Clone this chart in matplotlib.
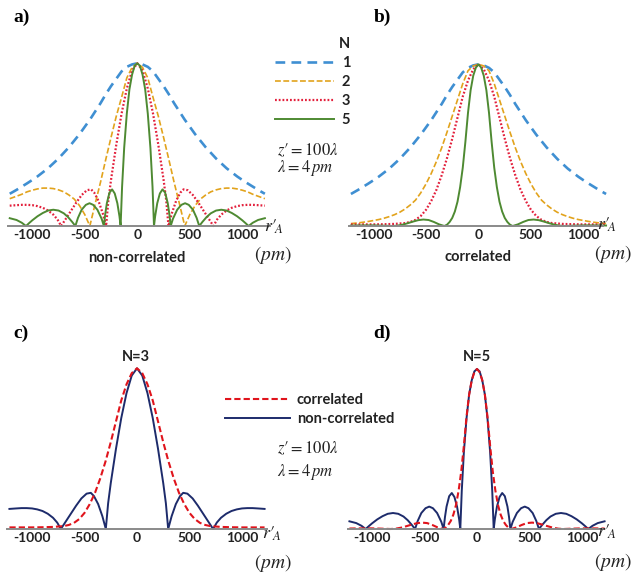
import matplotlib
matplotlib.use("Agg")
import matplotlib.pyplot as plt

plt.rcParams['font.family'] = ['Lato', 'DejaVu Sans']
plt.rcParams['mathtext.fontset'] = 'stix'
plt.rcParams['axes.unicode_minus'] = False
plt.rcParams['lines.scale_dashes'] = False

# ---------------- data ----------------
TICKS = [-1000, -500, 0, 500, 1000]
TICK_LABELS = ["-1000", "-500", "0", "500", "1000"]
N_LABELS = ["1", "2", "3", "5"]

# N = 1 (same for correlated / non-correlated)
X_N1 = [-1215, -1150, -1100, -1050, -1000, -950, -900, -850, -800, -750, -700, -650, -600, -550, -500,
        -450, -400, -350, -300, -250, -200, -150, -100, -50, 0, 50, 100, 150, 200, 250, 300, 350, 400,
        450, 500, 550, 600, 650, 700, 750, 800, 850, 900, 950, 1000, 1050, 1100, 1150, 1215]
Y_N1 = [0.198, 0.222, 0.242, 0.262, 0.283, 0.305, 0.33, 0.355, 0.385, 0.415, 0.45, 0.485, 0.525, 0.565, 0.61,
        0.655, 0.705, 0.755, 0.81, 0.86, 0.905, 0.95, 0.978, 0.993, 1.0, 0.993, 0.978, 0.95, 0.905, 0.86, 0.81,
        0.755, 0.705, 0.655, 0.61, 0.565, 0.525, 0.485, 0.45, 0.415, 0.385, 0.355, 0.33, 0.305, 0.283, 0.262,
        0.242, 0.222, 0.198]

# N = 2 non-correlated
X_NC2 = [-1215, -1150, -1100, -1050, -1000, -950, -900, -850, -800, -750, -700, -650, -600, -550, -500,
         -452, -400, -350, -300, -250, -200, -150, -100, -50, 0, 50, 100, 150, 200, 250, 300, 350, 400,
         452, 500, 550, 600, 650, 700, 750, 800, 850, 900, 950, 1000, 1050, 1100, 1150, 1215]
Y_NC2 = [0.168, 0.183, 0.195, 0.21, 0.22, 0.228, 0.233, 0.233, 0.23, 0.222, 0.21, 0.19, 0.165, 0.125, 0.07,
         0.0, 0.14, 0.27, 0.41, 0.545, 0.675, 0.79, 0.91, 0.975, 1.0, 0.975, 0.91, 0.79, 0.675, 0.545, 0.41,
         0.27, 0.14, 0.0, 0.07, 0.125, 0.165, 0.19, 0.21, 0.222, 0.23, 0.233, 0.233, 0.228, 0.22, 0.21,
         0.195, 0.183, 0.168]

# N = 2 correlated
X_C2 = X_N1
Y_C2 = [0.015, 0.019, 0.023, 0.028, 0.034, 0.04, 0.048, 0.058, 0.07, 0.085, 0.105, 0.13, 0.16, 0.205, 0.26,
        0.325, 0.40, 0.485, 0.58, 0.68, 0.78, 0.88, 0.96, 0.99, 1.0, 0.99, 0.96, 0.88, 0.78, 0.68, 0.58,
        0.485, 0.40, 0.325, 0.26, 0.205, 0.16, 0.13, 0.105, 0.085, 0.07, 0.058, 0.048, 0.04, 0.034, 0.028,
        0.023, 0.019, 0.015]

# N = 3 non-correlated
X_NC3 = [-1215, -1150, -1100, -1050, -1000, -950, -900, -850, -800, -760, -725, -680, -630, -580, -530,
         -480, -440, -410, -370, -330, -297, -275, -250, -200, -150, -100, -50, 0, 50, 100, 150, 200, 250,
         275, 297, 330, 370, 410, 440, 480, 530, 580, 630, 680, 725, 760, 800, 850, 900, 950, 1000, 1050,
         1100, 1150, 1215]
Y_NC3 = [0.125, 0.128, 0.13, 0.13, 0.128, 0.122, 0.112, 0.095, 0.07, 0.04, 0.0, 0.045, 0.095, 0.145, 0.19,
         0.22, 0.225, 0.205, 0.155, 0.08, 0.0, 0.16, 0.285, 0.50, 0.69, 0.845, 0.955, 1.0, 0.955, 0.845, 0.69,
         0.50, 0.285, 0.16, 0.0, 0.08, 0.155, 0.205, 0.225, 0.22, 0.19, 0.145, 0.095, 0.045, 0.0, 0.04, 0.07,
         0.095, 0.112, 0.122, 0.128, 0.13, 0.13, 0.128, 0.125]

# N = 3 correlated
X_C3 = [-1215, -1100, -1000, -900, -800, -700, -650, -600, -550, -500, -450, -400, -350, -300, -250, -200,
        -150, -100, -50, 0, 50, 100, 150, 200, 250, 300, 350, 400, 450, 500, 550, 600, 650, 700, 800, 900,
        1000, 1100, 1215]
Y_C3 = [0.01, 0.01, 0.01, 0.011, 0.013, 0.018, 0.025, 0.038, 0.062, 0.10, 0.155, 0.225, 0.315, 0.42, 0.54,
        0.67, 0.8, 0.9, 0.97, 1.0, 0.97, 0.9, 0.8, 0.67, 0.54, 0.42, 0.315, 0.225, 0.155, 0.10, 0.062, 0.038,
        0.025, 0.018, 0.013, 0.011, 0.01, 0.01, 0.01]

# N = 5 non-correlated
X_NC5 = [-1215, -1150, -1100, -1060, -1030, -1000, -950, -900, -850, -800, -750, -700, -660, -620, -590,
         -565, -530, -490, -455, -420, -380, -340, -318, -305, -290, -265, -240, -215, -190, -170, -159,
         -145, -125, -100, -75, -50, -25, 0, 25, 50, 75, 100, 125, 145, 159, 170, 190, 215, 240, 265, 290,
         305, 318, 340, 380, 420, 455, 490, 530, 565, 590, 620, 660, 700, 750, 800, 850, 900, 950, 1000,
         1030, 1060, 1100, 1150, 1215]
Y_NC5 = [0.048, 0.037, 0.02, 0.0, 0.018, 0.035, 0.06, 0.08, 0.095, 0.1, 0.095, 0.078, 0.055, 0.025, 0.0,
         0.05, 0.1, 0.13, 0.14, 0.13, 0.1, 0.045, 0.0, 0.075, 0.14, 0.205, 0.225, 0.2, 0.14, 0.06, 0.0,
         0.24, 0.48, 0.69, 0.84, 0.93, 0.985, 1.0, 0.985, 0.93, 0.84, 0.69, 0.48, 0.24, 0.0, 0.06, 0.14,
         0.2, 0.225, 0.205, 0.14, 0.075, 0.0, 0.045, 0.1, 0.13, 0.14, 0.13, 0.1, 0.05, 0.0, 0.025, 0.055,
         0.078, 0.095, 0.1, 0.095, 0.08, 0.06, 0.035, 0.018, 0.0, 0.02, 0.037, 0.048]

# N = 5 correlated
X_C5 = [-1215, -1100, -1000, -900, -825, -775, -725, -675, -625, -575, -525, -475, -425, -375, -325, -300,
        -275, -250, -225, -200, -175, -150, -125, -100, -75, -50, -25, 0, 25, 50, 75, 100, 125, 150, 175,
        200, 225, 250, 275, 300, 325, 375, 425, 475, 525, 575, 625, 675, 725, 775, 825, 900, 1000, 1100,
        1215]
Y_C5 = [0.003, 0.004, 0.004, 0.002, 0.0, 0.002, 0.008, 0.017, 0.027, 0.036, 0.04, 0.037, 0.025, 0.01, 0.0,
        0.008, 0.025, 0.05, 0.09, 0.15, 0.24, 0.36, 0.52, 0.70, 0.84, 0.93, 0.98, 1.0, 0.98, 0.93, 0.84,
        0.70, 0.52, 0.36, 0.24, 0.15, 0.09, 0.05, 0.025, 0.008, 0.0, 0.01, 0.025, 0.037, 0.04, 0.036, 0.027,
        0.017, 0.008, 0.002, 0.0, 0.002, 0.004, 0.004, 0.003]

# ---------------- styles ----------------
C_BLUE = "#3f8fd2"
C_ORANGE = "#e2a31c"
C_RED_DOT = "#e3203c"
C_GREEN = "#4e8a32"
C_NAVY = "#1d2b6b"
C_RED = "#e0141c"
C_AXIS = "#8a8a8a"
C_TEXT = "#222222"

W, H = 636, 575
fig = plt.figure(figsize=(W / 100, H / 100), dpi=100)
fig.patch.set_facecolor("white")


def make_ax(center, scale, xlim, y0, unit, ymax=1.06):
    x0 = center + xlim[0] * scale
    x1 = center + xlim[1] * scale
    ytop = y0 - ymax * unit
    ax = fig.add_axes([x0 / W, 1 - y0 / H, (x1 - x0) / W, (y0 - ytop) / H])
    ax.set_xlim(*xlim)
    ax.set_ylim(0, ymax)
    for s in ("top", "right", "left"):
        ax.spines[s].set_visible(False)
    ax.spines["bottom"].set_color(C_AXIS)
    ax.spines["bottom"].set_linewidth(1.4)
    ax.set_yticks([])
    ax.set_xticks(TICKS)
    ax.set_xticklabels(TICK_LABELS, fontweight="bold", fontsize=10, color=C_TEXT)
    ax.tick_params(axis="x", length=0, pad=2.5)
    ax.patch.set_alpha(0)
    return ax


def ftext(x, y, s, **kw):
    kw.setdefault("ha", "center")
    kw.setdefault("va", "center")
    kw.setdefault("color", C_TEXT)
    fig.text(x / W, 1 - y / H, s, **kw)


SC = 0.105
ax_a = make_ax(137.3, SC, (-1235, 1260), 226, 162.7)
ax_b = make_ax(478.5, SC, (-1238, 1190), 226, 161.7)
ax_c = make_ax(137.0, SC, (-1235, 1235), 529, 160.7)
ax_d = make_ax(477.0, SC, (-1226, 1203), 529, 160.0)

kw_common = dict(clip_on=False, solid_joinstyle="round")
# panel a: non-correlated
l1, = ax_a.plot(X_N1, Y_N1, color=C_BLUE, lw=1.9, dashes=(7, 4.5), **kw_common)
l2, = ax_a.plot(X_NC2, Y_NC2, color=C_ORANGE, lw=1.2, dashes=(4.2, 1.8), **kw_common)
l3, = ax_a.plot(X_NC3, Y_NC3, color=C_RED_DOT, lw=1.6, dashes=(1.3, 1.4), **kw_common)
l5, = ax_a.plot(X_NC5, Y_NC5, color=C_GREEN, lw=1.4, **kw_common)
# panel b: correlated
ax_b.plot(X_N1, Y_N1, color=C_BLUE, lw=1.9, dashes=(7, 4.5), **kw_common)
ax_b.plot(X_C2, Y_C2, color=C_ORANGE, lw=1.2, dashes=(4.2, 1.8), **kw_common)
ax_b.plot(X_C3, Y_C3, color=C_RED_DOT, lw=1.6, dashes=(1.3, 1.4), **kw_common)
ax_b.plot(X_C5, Y_C5, color=C_GREEN, lw=1.4, **kw_common)
# panel c: N=3
nc_c, = ax_c.plot(X_NC3, Y_NC3, color=C_NAVY, lw=1.4, **kw_common)
c_c, = ax_c.plot(X_C3, Y_C3, color=C_RED, lw=1.5, dashes=(4.5, 2.2), **kw_common)
# panel d: N=5
ax_d.plot(X_NC5, Y_NC5, color=C_NAVY, lw=1.4, **kw_common)
ax_d.plot(X_C5, Y_C5, color=C_RED, lw=1.5, dashes=(4.5, 2.2), **kw_common)

# legends
leg1 = fig.legend([l1, l2, l3, l5], N_LABELS, title="N", loc="upper left",
                  bbox_to_anchor=(268 / W, 1 - 30 / H), frameon=False, borderpad=0,
                  handlelength=4.0, handletextpad=0.55, labelspacing=0.34,
                  prop=dict(weight="bold", size=10.5), alignment="right")
leg1.get_title().set_fontweight("bold")
leg1.get_title().set_fontsize(10.5)
for t in leg1.get_texts():
    t.set_color(C_TEXT)
leg1.get_title().set_color(C_TEXT)

leg2 = fig.legend([c_c, nc_c], ["correlated", "non-correlated"], loc="upper left",
                  bbox_to_anchor=(218 / W, 1 - 386 / H), frameon=False, borderpad=0,
                  handlelength=4.45, handletextpad=0.45, labelspacing=0.3,
                  prop=dict(weight="bold", size=10.5))
for t in leg2.get_texts():
    t.set_color(C_TEXT)

# panel letters
for (x, y, s) in [(22, 17, "a)"), (382, 17, "b)"), (21, 333, "c)"), (382, 333, "d)")]:
    ftext(x, y, s, fontsize=14, fontweight="bold", family="Liberation Serif", color="black")

# axis annotations
for (x, y) in [(274, 227), (607, 225), (272, 534), (607, 532)]:
    ftext(x, y, r"$r\prime_{\!A}$", fontsize=13)
for (x, y) in [(273, 255), (613, 254), (273, 563), (613, 562)]:
    ftext(x, y, r"$(pm)$", fontsize=14)

ftext(137, 258, "non-correlated", fontsize=10.5, fontweight="bold")
ftext(478, 257, "correlated", fontsize=10.5, fontweight="bold")
ftext(136, 357, "N=3", fontsize=10.5, fontweight="bold")
ftext(477, 357, "N=5", fontsize=10.5, fontweight="bold")

for (y1, y2) in [(150, 168), (448, 472)]:
    ftext(277, y1, r"$z\prime = 100\lambda$", fontsize=12, ha="left")
    ftext(277, y2, r"$\lambda = 4\,pm$", fontsize=12, ha="left")

fig.savefig("out.png", dpi=100)
